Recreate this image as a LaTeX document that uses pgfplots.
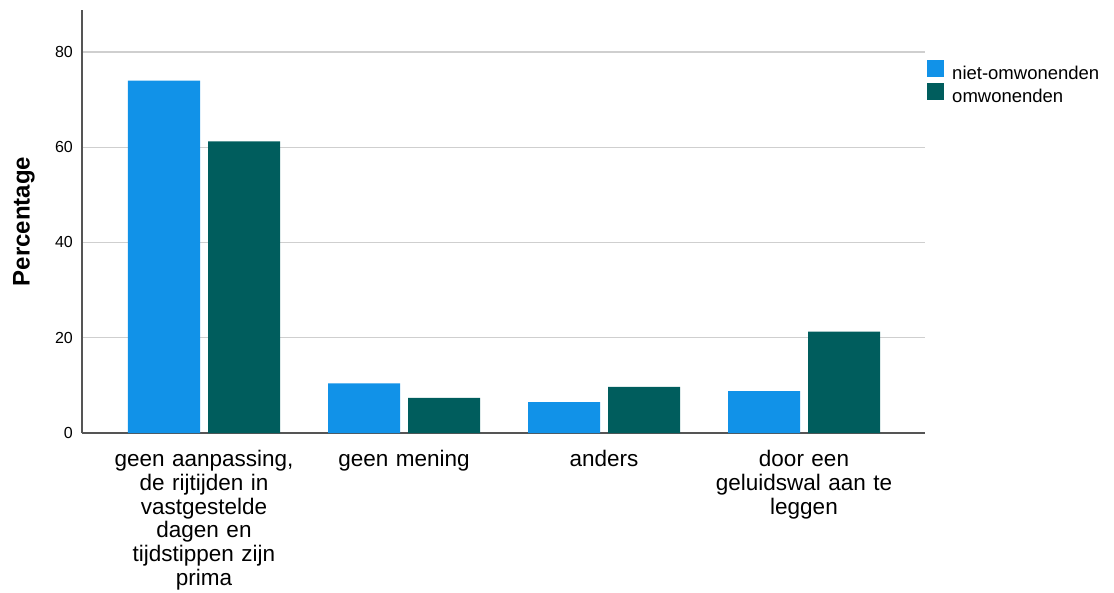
\documentclass[border=0pt]{standalone}
\usepackage{pgfplots}
\pgfplotsset{compat=1.18}
\usepackage{fontspec}
\setmainfont{Liberation Sans}
\definecolor{cblue}{HTML}{1192E8}
\definecolor{cteal}{HTML}{005D5D}
\definecolor{cgrid}{HTML}{CFCFCF}
\definecolor{caxis}{HTML}{555555}
\begin{document}
\begin{tikzpicture}
\useasboundingbox (-82pt,-159pt) rectangle (1032pt,433pt);
\begin{axis}[
  at={(0pt,0pt)}, anchor=south west,
  scale only axis,
  width=843pt, height=423pt,
  ybar,
  xmin=-0.61, xmax=3.605,
  ymin=0, ymax=88.8,
  bar width=0.36,
  xtick={0,1,2,3},
  xticklabels={
    {\strut geen aanpassing,\\de rijtijden in\\vastgestelde\\dagen en\\tijdstippen zijn\\prima},
    {\strut geen mening},
    {\strut anders},
    {\strut door een\\geluidswal aan te\\leggen}},
  ytick={0,20,40,60,80},
  major tick length=0pt,
  axis lines*=left,
  axis line style={draw=caxis, line width=1.3pt},
  ymajorgrids,
  grid style={draw=cgrid, line width=1.2pt},
  /pgf/number format/assume math mode=true,
  yticklabel style={font=\fontsize{16}{18}\selectfont, inner sep=0pt, xshift=-9pt},
  xticklabel style={font=\fontsize{22.5}{23.7}\selectfont, text width=210pt, align=center, anchor=north, inner sep=0pt, yshift=-17pt},
  ylabel={\textbf{Percentage}},
  ylabel style={at={(axis description cs:-0.0688,0.5)}, anchor=center, font=\fontsize{24}{28}\selectfont},
  legend style={draw=none, fill=none, at={(axis description cs:1.0024,0.8818)}, anchor=north west,
    font=\fontsize{18.5}{21}\selectfont, inner sep=0pt, row sep=0.5pt, column sep=6pt},
  legend cell align=left,
  legend image code/.code={\fill[#1] (0pt,-4pt) rectangle (17pt,13pt);},
]
\addplot[fill=cblue, draw=none, bar shift=-0.2] coordinates {(0,74.0) (1,10.4) (2,6.5) (3,8.8)};
\addplot[fill=cteal, draw=none, bar shift=0.2] coordinates {(0,61.2) (1,7.4) (2,9.7) (3,21.3)};
\legend{niet-omwonenden, omwonenden}
\end{axis}
\end{tikzpicture}
\end{document}
